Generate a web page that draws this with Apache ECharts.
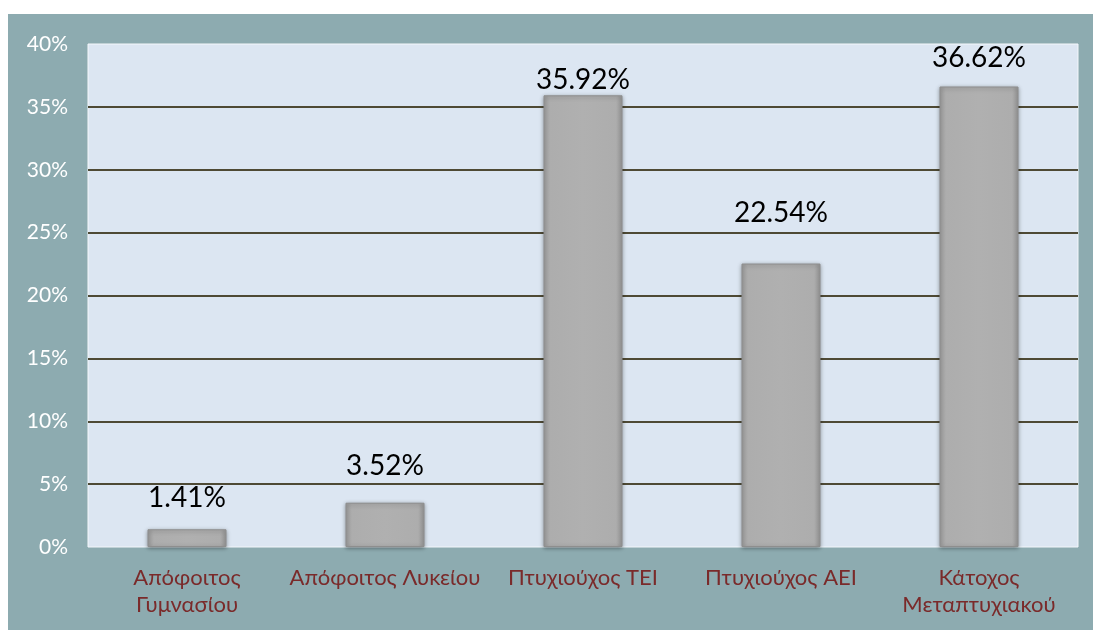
<!DOCTYPE html>
<html>
<head>
<meta charset="utf-8">
<script src="https://cdn.jsdelivr.net/npm/echarts@6/dist/echarts.min.js"></script>
<style>
html,body{margin:0;padding:0;background:#ffffff;width:1093px;height:630px;overflow:hidden;}
#c{position:absolute;left:8px;top:14px;width:1085px;height:616px;background:#8DABB0;}
</style>
</head>
<body>
<div id="c"></div>
<script>
var categories = ['Απόφοιτος\nΓυμνασίου', 'Απόφοιτος Λυκείου', 'Πτυχιούχος ΤΕΙ', 'Πτυχιούχος ΑΕΙ', 'Κάτοχος\nΜεταπτυχιακού'];
var values = [1.41, 3.52, 35.92, 22.54, 36.62];
var labelGaps = [17, 23, 1, 37, 15];
var yTicks = [0, 5, 10, 15, 20, 25, 30, 35, 40];

var chart = echarts.init(document.getElementById('c'), null, {renderer: 'canvas'});
var barData = values.map(function (v, i) {
  return {value: v, label: {distance: labelGaps[i]}};
});
chart.setOption({
  backgroundColor: 'transparent',
  animation: false,
  grid: {
    left: 80, top: 30, right: 15, bottom: 83,
    show: true, backgroundColor: '#DCE6F2', borderColor: '#F4F7FB', borderWidth: 1
  },
  xAxis: {
    type: 'category',
    data: categories,
    axisLine: {show: false},
    axisTick: {show: false},
    axisLabel: {color: '#7A2A2A', fontFamily: 'Lato', fontSize: 22, lineHeight: 27, margin: 17, interval: 0}
  },
  yAxis: {
    type: 'value',
    min: yTicks[0], max: yTicks[yTicks.length - 1], interval: 5,
    axisLine: {show: false},
    axisTick: {show: false},
    axisLabel: {color: '#FFFFFF', fontFamily: 'Lato', fontSize: 21, margin: 20, formatter: '{value}%'},
    splitLine: {show: true, lineStyle: {width: 2, color: ['transparent', '#4E4A35', '#4E4A35', '#4E4A35', '#4E4A35', '#4E4A35', '#4E4A35', '#4E4A35', 'transparent']}}
  },
  series: [{
    type: 'bar',
    data: barData,
    barWidth: 79,
    itemStyle: {
      color: {type: 'linear', x: 0, y: 0, x2: 1, y2: 0, colorStops: [
        {offset: 0, color: '#9C9C9C'}, {offset: 0.08, color: '#ADADAD'},
        {offset: 0.5, color: '#B0B0B0'}, {offset: 0.92, color: '#ADADAD'}, {offset: 1, color: '#979797'}
      ]},
      borderColor: '#8E8E8E', borderWidth: 1,
      shadowColor: 'rgba(0,0,0,0.35)', shadowBlur: 4, shadowOffsetY: 1
    },
    label: {
      show: true, position: 'top', color: '#000000', fontFamily: 'Lato', fontSize: 28,
      formatter: function (p) { return p.value.toFixed(2) + '%'; }
    }
  }]
});
</script>
</body>
</html>
